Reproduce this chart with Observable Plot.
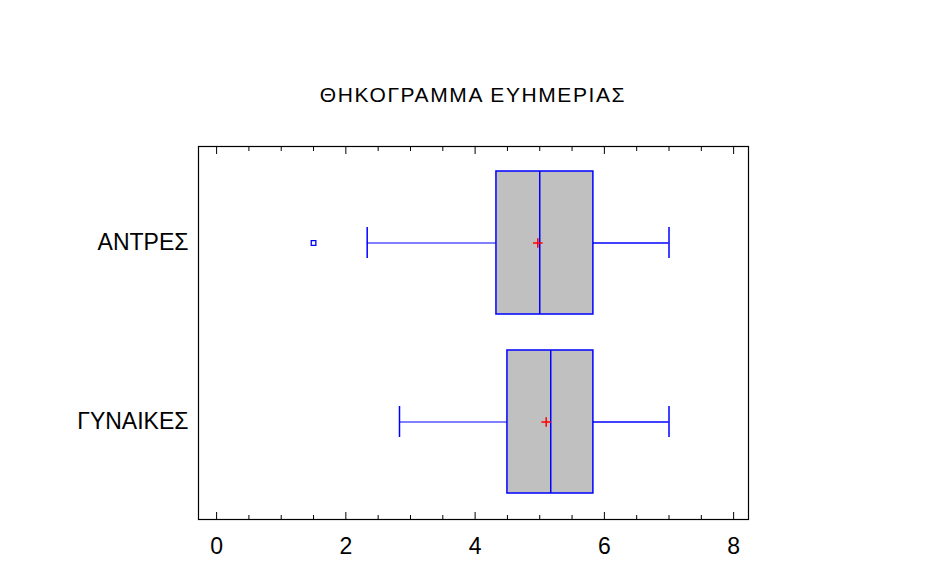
<!DOCTYPE html>
<html>
<head>
<meta charset="utf-8">
<script src="https://cdn.jsdelivr.net/npm/d3@7"></script>
<script src="https://cdn.jsdelivr.net/npm/@observablehq/plot@0.6"></script>
<style>
  html, body { margin: 0; padding: 0; background: #fff; }
  #wrap { width: 925px; height: 561px; position: relative; font-family: "Liberation Sans", Arial, sans-serif; }
  #title { position: absolute; left: 198px; width: 550px; top: 82px; text-align: center; font-size: 21px; letter-spacing: 1.6px; color: #000; line-height: 26px; }
  #chart { position: absolute; left: 0; top: 120px; }
</style>
</head>
<body>
<div id="wrap">
  <div id="title">ΘΗΚΟΓΡΑΜΜΑ ΕΥΗΜΕΡΙΑΣ</div>
  <div id="chart"></div>
</div>
<script>
// ---- data ----
const groups = ["ΑΝΤΡΕΣ", "ΓΥΝΑΙΚΕΣ"];
const whiskerLow = [2.33, 2.83];
const q1 = [4.33, 4.5];
const median = [5.0, 5.17];
const q3 = [5.83, 5.83];
const whiskerHigh = [7.0, 7.0];
const means = [4.97, 5.1];
const outlierGroups = ["ΑΝΤΡΕΣ"];
const outlierValues = [1.5];
const majorTicks = [0, 2, 4, 6, 8];
const minorTicks = [0.5, 1, 1.5, 2.5, 3, 3.5, 4.5, 5, 5.5, 6.5, 7, 7.5];

const rows = groups.map((g, i) => ({
  group: g, lo: whiskerLow[i], q1: q1[i], med: median[i], q3: q3[i], hi: whiskerHigh[i], mean: means[i]
}));
const outliers = outlierGroups.map((g, i) => ({group: g, value: outlierValues[i]}));

const blue = "#0000ff";
const font = "Liberation Sans, Arial, sans-serif";

const plot = Plot.plot({
  width: 925,
  height: 441,
  marginLeft: 198,
  marginRight: 177,
  marginTop: 26,
  marginBottom: 42,
  style: {fontFamily: font, background: "#fff", color: "#000"},
  x: {domain: [-0.28, 8.23], axis: null},
  y: {domain: groups, axis: null, paddingInner: 0.2, paddingOuter: 0.14},
  marks: [
    // whiskers
    Plot.ruleY(rows, {y: "group", x1: "lo", x2: "q1", stroke: blue, strokeWidth: 1}),
    Plot.ruleY(rows, {y: "group", x1: "q3", x2: "hi", stroke: blue, strokeWidth: 1.5}),
    Plot.tickX(rows, {x: "lo", y: "group", stroke: blue, strokeWidth: 1.5, inset: 56}),
    Plot.tickX(rows, {x: "hi", y: "group", stroke: blue, strokeWidth: 1.5, inset: 56}),
    // boxes
    Plot.barX(rows, {y: "group", x1: "q1", x2: "q3", fill: "#c0c0c0", stroke: blue, strokeWidth: 1.5}),
    Plot.tickX(rows, {x: "med", y: "group", stroke: blue, strokeWidth: 1.5}),
    // means
    Plot.dot(rows, {x: "mean", y: "group", symbol: "plus", r: 3.2, stroke: "#ff0000", strokeWidth: 1.5}),
    // outliers
    Plot.dot(outliers, {x: "value", y: "group", symbol: "square", r: 2.6, stroke: blue, fill: "none", strokeWidth: 1.3}),
    // frame
    Plot.frame({stroke: "#000", strokeWidth: 1.2}),
    // inward ticks
    Plot.axisX(majorTicks, {anchor: "bottom", tickSize: -7, tickFormat: () => "", stroke: "#000"}),
    Plot.axisX(minorTicks, {anchor: "bottom", tickSize: -4, tickFormat: () => "", stroke: "#000"}),
    Plot.axisX(majorTicks, {anchor: "top", tickSize: -7, tickFormat: () => "", stroke: "#000"}),
    Plot.axisX(minorTicks, {anchor: "top", tickSize: -4, tickFormat: () => "", stroke: "#000"}),
    // tick labels
    Plot.axisX(majorTicks, {anchor: "bottom", tickSize: 0, tickPadding: 18, fontSize: 23, label: null, fill: "#000"}),
    Plot.axisY(groups, {anchor: "left", tickSize: 0, tickPadding: 10, fontSize: 23, label: null, fill: "#000"})
  ]
});
document.getElementById("chart").appendChild(plot);
</script>
</body>
</html>
